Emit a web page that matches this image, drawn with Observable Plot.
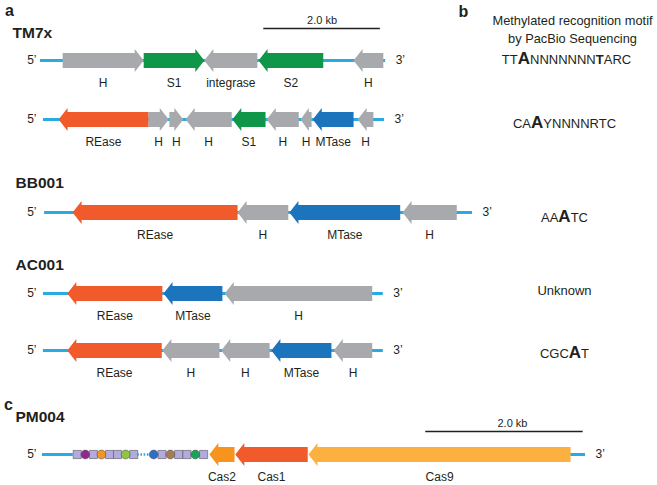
<!DOCTYPE html>
<html><head><meta charset="utf-8">
<script src="https://cdn.jsdelivr.net/npm/d3@7"></script>
<script src="https://cdn.jsdelivr.net/npm/@observablehq/plot@0.6"></script>
<style>
body{margin:0;background:#fff}
#chart svg{display:block}
</style>
</head><body><div id="chart"></div>
<script>
// ---------------- DATA ----------------
// gene maps: [label, start kb, end kb, strand(+1 right / -1 left)]
const tm7xLocus1 = [["H",0.38,1.77,1],["S1",1.77,2.81,1],["integrase",2.81,3.72,-1],["S2",3.74,4.85,-1],["H",5.37,5.88,-1]];
const tm7xLocus2 = [["REase",0.31,1.85,-1],["H",1.85,2.20,1],["H",2.21,2.45,1],["H",2.49,3.28,-1],["S1",3.29,3.86,-1],["H",3.88,4.43,-1],["H",4.46,4.65,-1],["MTase",4.67,5.37,-1],["H",5.44,5.71,-1]];
const bb001Locus = [["REase",0.55,3.38,-1],["H",3.38,4.25,-1],["MTase",4.27,6.17,-1],["H",6.21,7.14,-1]];
const ac001Locus1 = [["REase",0.46,2.09,-1],["MTase",2.11,3.12,-1],["H",3.16,5.69,-1]];
const ac001Locus2 = [["REase",0.46,2.08,-1],["H",2.09,3.07,-1],["H",3.10,3.93,-1],["MTase",3.96,4.99,-1],["H",5.03,5.69,-1]];
const pm004Locus = [["Cas2",2.12,2.44,-1],["Cas1",2.45,3.37,-1],["Cas9",3.38,6.71,-1]];
// extent of each DNA segment (kb)
const locusExtents = [[0,5.92],[0.05,5.90],[0.07,7.41],[0.05,5.88],[0.05,5.88],[0,6.90]];
// crRNA array (R = repeat, others = spacer colour names), two blocks separated by a gap
const crrnaBlock1 = ["R","purple","R","orange","R","R","lime","R"];
const crrnaBlock2 = ["blue","R","brown","R","R","green","R"];
const crrnaBlockExtents = [[0.39,1.21],[1.36,2.10]];
// strains and motifs
const strains = ["TM7x","BB001","AC001","PM004"];
const motifs = ["TTANNNNNNNTARC","CAAYNNNNRTC","AAATC","Unknown","CGCAT"];
const motifBigIdx = [2,2,2,-1,3];
const motifBoldIdx = [10,-1,-1,-1,-1];
const scaleBarKb = 2.0;
const scaleBarStartKb = [3.83, 4.87]; // panel a, panel c

// ---------------- STYLE / LAYOUT ----------------
const colors = {REase:"#f15a2b", MTase:"#1c75bc", S1:"#109648", S2:"#109648", H:"#a7a9ac", integrase:"#a7a9ac",
  Cas1:"#f15a2b", Cas2:"#f7941d", Cas9:"#fbb040"};
const spacerColors = {purple:"#92278f", orange:"#f7941d", lime:"#8dc63f", blue:"#2f6fc7", brown:"#a67c52", green:"#1aa45a"};
const repeatColor = "#b3aae0";
const dnaColor = "#29abe2";
const textColor = "#231f20";
const panelA = {origin:40, pxPerKb:58.3};
const panelC = {origin:42, pxPerKb:78.7};
const trackY = [60,119,212,293,350,454];
const trackPanel = [panelA,panelA,panelA,panelA,panelA,panelC];
const trackGenes = [tm7xLocus1,tm7xLocus2,bb001Locus,ac001Locus1,ac001Locus2,pm004Locus];
const strainTitleX = [12,15,15,15];
const strainTitleY = [33,183,265,417];
const motifY = [59,123,217,290,353];
const motifX = [566,564,564,564,564];
const BODY = 7.5, HEAD = 11.5, HEADLEN = 9;

// ---------------- DERIVED ----------------
const polys = [], geneLabels = [], dna = [], ends5 = [], ends3 = [];
trackGenes.forEach((genes, ti) => {
  const P = trackPanel[ti], y = trackY[ti];
  const px = kb => P.origin + kb * P.pxPerKb;
  genes.forEach(([label, s, e, strand], gi) => {
    const x0 = px(s), x1 = px(e), len = x1 - x0;
    const h = Math.min(HEADLEN, len * 0.75);
    const id = ti + "-" + gi;
    let pts;
    if (strand > 0) pts = [[x0,y-BODY],[x1-h,y-BODY],[x1-h,y-HEAD],[x1,y],[x1-h,y+HEAD],[x1-h,y+BODY],[x0,y+BODY]];
    else pts = [[x1,y-BODY],[x0+h,y-BODY],[x0+h,y-HEAD],[x0,y],[x0+h,y+HEAD],[x0+h,y+BODY],[x1,y+BODY]];
    pts.forEach(([x,yy]) => polys.push({id, x, y:yy, color:colors[label]}));
    geneLabels.push({x:(x0+x1)/2, y:y+23, text:label});
  });
  const [a,b] = locusExtents[ti];
  if (ti === 5) {
    dna.push({x1:px(a), x2:px(crrnaBlockExtents[0][0]), y});
    dna.push({x1:px(genes[genes.length-1][2]), x2:px(b), y});
  } else dna.push({x1:px(a), x2:px(b), y});
  ends5.push({x:36, y, text:"5\u2019"});
  ends3.push({x:px(b)+10, y, text:"3\u2019"});
});
// crRNA items
const crItems = [];
[crrnaBlock1, crrnaBlock2].forEach((block, bi) => {
  const [s,e] = crrnaBlockExtents[bi];
  const step = (e - s) / block.length;
  block.forEach((k, i) => {
    const kb = s + step * (i + 0.5);
    crItems.push({x: panelC.origin + kb*panelC.pxPerKb, y: trackY[5], kind: k});
  });
});
const crGap = [{x1: panelC.origin + crrnaBlockExtents[0][1]*panelC.pxPerKb, x2: panelC.origin + crrnaBlockExtents[1][0]*panelC.pxPerKb, y: trackY[5]}];
const bars = [
  {x1: panelA.origin + scaleBarStartKb[0]*panelA.pxPerKb, x2: panelA.origin + (scaleBarStartKb[0]+scaleBarKb)*panelA.pxPerKb, y:28, dx:0},
  {x1: panelC.origin + scaleBarStartKb[1]*panelC.pxPerKb, x2: panelC.origin + (scaleBarStartKb[1]+scaleBarKb)*panelC.pxPerKb, y:431, dx:8}
];
const titles = strains.map((s,i)=>({x:strainTitleX[i], y:strainTitleY[i], text:s}));
const letters = [{x:9,y:10,text:"a"},{x:463,y:11,text:"b"},{x:8,y:404,text:"c"}];
const motifRows = motifs.map((m,i)=>({x:motifX[i], y:motifY[i], text:m}));

const colorKeys = [...new Set(polys.map(d=>d.color))];

const plot = Plot.plot({
  width:657, height:485, margin:0,
  x:{domain:[0,657], range:[0,657], axis:null},
  y:{domain:[0,485], range:[0,485], axis:null},
  color:{type:"identity"},
  style:{fontFamily:"'Liberation Sans', Arial, sans-serif", background:"#fff", color:textColor},
  marks:[
    Plot.ruleY(dna, {x1:"x1", x2:"x2", y:"y", stroke:dnaColor, strokeWidth:3}),
    Plot.ruleY(crGap, {x1:"x1", x2:"x2", y:"y", stroke:dnaColor, strokeWidth:2.5, strokeDasharray:"1.6,1.6"}),
    ...colorKeys.map(c => Plot.line(polys.filter(d=>d.color===c), {x:"x", y:"y", z:"id", fill:c, stroke:"none", curve:"linear-closed"})),
    Plot.dot(crItems.filter(d=>d.kind==="R"), {x:"x", y:"y", symbol:"square", r:4.6, fill:repeatColor, stroke:"#555", strokeWidth:0.6}),
    Plot.dot(crItems.filter(d=>d.kind!=="R"), {x:"x", y:"y", r:4.4, fill:d=>spacerColors[d.kind], stroke:"#555", strokeWidth:0.6}),
    Plot.text(geneLabels, {x:"x", y:"y", text:"text", fontSize:12, fill:textColor}),
    Plot.text(ends5, {x:"x", y:"y", text:"text", fontSize:12, textAnchor:"end", fill:textColor}),
    Plot.text(ends3, {x:"x", y:"y", text:"text", fontSize:12, textAnchor:"start", fill:textColor}),
    Plot.ruleY(bars, {x1:"x1", x2:"x2", y:"y", stroke:"#231f20", strokeWidth:1.3}),
    Plot.text(bars, {x:d=>(d.x1+d.x2)/2 + d.dx, y:d=>d.y-8, text:()=>scaleBarKb.toFixed(1)+" kb", fontSize:11, fill:textColor}),
    Plot.text(titles, {x:"x", y:"y", text:"text", fontSize:15.5, fontWeight:"bold", textAnchor:"start", fill:textColor}),
    Plot.text(letters, {x:"x", y:"y", text:"text", fontSize:16, fontWeight:"bold", fill:textColor}),
    Plot.text([{x:572, y:28, text:"Methylated recognition motif\nby PacBio Sequencing"}], {x:"x", y:"y", text:"text", fontSize:12.8, lineHeight:1.42, fill:textColor}),
    Plot.text(motifRows, {x:"x", y:"y", text:"text", fontSize:13, fill:textColor})
  ]
});
// emphasise the methylated base(s) in each motif
plot.querySelectorAll("text").forEach(t => {
  const i = motifs.indexOf(t.textContent);
  if (i < 0 || (motifBigIdx[i] < 0 && motifBoldIdx[i] < 0)) return;
  t.textContent = "";
  [...motifs[i]].forEach((ch, k) => {
    const ts = document.createElementNS("http://www.w3.org/2000/svg", "tspan");
    ts.textContent = ch;
    if (k === motifBigIdx[i]) { ts.setAttribute("font-weight","bold"); ts.setAttribute("font-size","17"); }
    else if (k === motifBoldIdx[i]) { ts.setAttribute("font-weight","bold"); }
    t.appendChild(ts);
  });
});
document.getElementById("chart").appendChild(plot);
</script>
</body></html>
